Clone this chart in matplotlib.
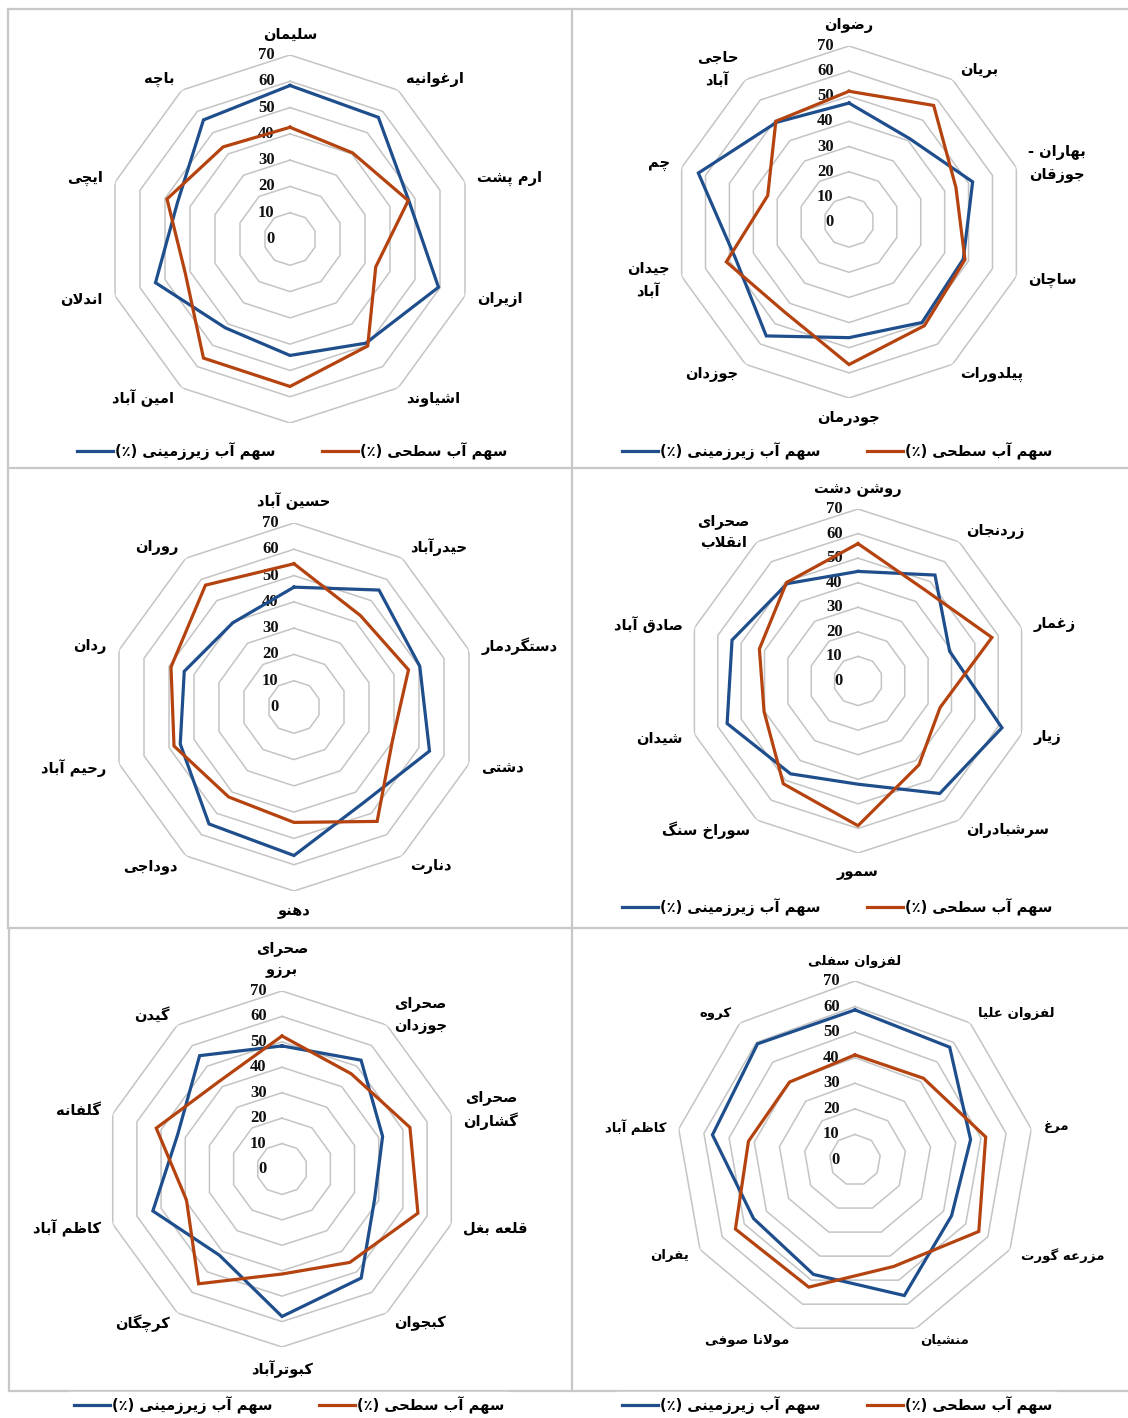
import matplotlib
matplotlib.use("Agg")
import matplotlib.pyplot as plt
import numpy as np
from matplotlib.lines import Line2D

W, H, DPI = 1128, 1418, 100

BLUE = "#1f4e8c"
RED = "#b5430f"
GRID = "#c4c4c4"
FRAME = "#c8c8c8"

TICKS = [0, 10, 20, 30, 40, 50, 60, 70]
GROUND_LABEL = "سهم آب زیرزمینی"
SURFACE_LABEL = "سهم آب سطحی"

# --- panel data (clockwise from top) ---
p1_names = ["سلیمان", "ارغوانیه", "ارم پشت", "ازیران", "اشیاوند", "",
            "امین آباد", "اندلان", "ایچی", "باچه"]
p1_ground = [58.4, 57.2, 47.5, 59.4, 49.0, 44.3, 41.8, 53.8, 45.0, 56.0]
p1_surface = [42.5, 40.5, 47.3, 34.3, 50.3, 56.1, 56.0, 41.9, 49.2, 43.3]

p2_names = ["رضوان", "بریان", "بهاران -\nجوزقان", "ساچان", "پیلدورات", "جودرمان",
            "جوزدان", "جیدان\nآباد", "چم", "حاجی\nآباد"]
p2_ground = [47.3, 41.0, 51.7, 47.8, 49.4, 46.0, 56.0, 47.4, 63.0, 49.0]
p2_surface = [52.0, 57.3, 44.7, 48.5, 51.0, 56.7, 44.0, 51.3, 34.0, 49.5]

p3_names = ["حسین آباد", "حیدرآباد", "دستگردمار", "دشتی", "دنارت", "دهنو",
            "دوداجی", "رحیم آباد", "ردان", "روران"]
p3_ground = [45.6, 55.0, 50.3, 54.2, 45.0, 56.5, 55.0, 45.5, 43.9, 39.6]
p3_surface = [54.5, 43.0, 45.8, 39.5, 53.8, 43.9, 42.3, 48.0, 49.2, 57.3]

p4_names = ["روشن دشت", "زردنجان", "زغمار", "زیار", "سرشبادران", "سمور",
            "سوراخ سنگ", "شیدان", "صادق آباد", "صحرای\nانقلاب"]
p4_ground = [44.6, 53.3, 39.2, 61.6, 56.6, 42.0, 46.7, 56.0, 53.9, 49.0]
p4_surface = [55.9, 46.0, 57.3, 35.1, 42.2, 58.9, 51.7, 40.2, 42.2, 49.5]

p5_names = ["صحرای\nبرزو", "صحرای\nجوزدان", "صحرای\nگشاران", "قلعه بغل", "کبجوان",
            "کبوترآباد", "کرچگان", "کاظم آباد", "گلفانه", "گیدن"]
p5_ground = [48.4, 52.9, 41.6, 38.3, 53.0, 58.0, 41.9, 53.4, 43.2, 55.1]
p5_surface = [52.3, 46.3, 52.9, 56.2, 45.4, 41.3, 55.8, 39.5, 52.0, 42.4]

p6_names = ["لفزوان سفلی", "لفزوان علیا", "مرغ", "مزرعه گورت", "منشیان",
            "مولانا صوفی", "یفران", "کاظم آباد", "کروه"]
p6_ground = [58.7, 57.6, 45.9, 43.6, 56.4, 47.6, 45.8, 56.6, 59.3]
p6_surface = [41.1, 41.7, 51.9, 55.9, 44.3, 52.9, 54.0, 42.3, 39.8]

# --- minimal Persian shaping (matplotlib has no complex text layout) ---
_DUAL = {
    "ب": "\uFE8F\uFE90\uFE91\uFE92", "پ": "\uFB56\uFB57\uFB58\uFB59",
    "ت": "\uFE95\uFE96\uFE97\uFE98", "ث": "\uFE99\uFE9A\uFE9B\uFE9C",
    "ج": "\uFE9D\uFE9E\uFE9F\uFEA0", "چ": "\uFB7A\uFB7B\uFB7C\uFB7D",
    "ح": "\uFEA1\uFEA2\uFEA3\uFEA4", "خ": "\uFEA5\uFEA6\uFEA7\uFEA8",
    "س": "\uFEB1\uFEB2\uFEB3\uFEB4", "ش": "\uFEB5\uFEB6\uFEB7\uFEB8",
    "ص": "\uFEB9\uFEBA\uFEBB\uFEBC", "ض": "\uFEBD\uFEBE\uFEBF\uFEC0",
    "ط": "\uFEC1\uFEC2\uFEC3\uFEC4", "ظ": "\uFEC5\uFEC6\uFEC7\uFEC8",
    "ع": "\uFEC9\uFECA\uFECB\uFECC", "غ": "\uFECD\uFECE\uFECF\uFED0",
    "ف": "\uFED1\uFED2\uFED3\uFED4", "ق": "\uFED5\uFED6\uFED7\uFED8",
    "ک": "\uFB8E\uFB8F\uFB90\uFB91", "گ": "\uFB92\uFB93\uFB94\uFB95",
    "ل": "\uFEDD\uFEDE\uFEDF\uFEE0", "م": "\uFEE1\uFEE2\uFEE3\uFEE4",
    "ن": "\uFEE5\uFEE6\uFEE7\uFEE8", "ه": "\uFEE9\uFEEA\uFEEB\uFEEC",
    "ی": "\uFBFC\uFBFD\uFBFE\uFBFF",
}
_RIGHT = {
    "ا": "\uFE8D\uFE8E", "آ": "\uFE81\uFE82", "د": "\uFEA9\uFEAA",
    "ذ": "\uFEAB\uFEAC", "ر": "\uFEAD\uFEAE", "ز": "\uFEAF\uFEB0",
    "ژ": "\uFB8A\uFB8B", "و": "\uFEED\uFEEE",
}


def fa(text):
    """Shape Persian text into presentation forms, in visual (LTR) order."""
    lines = []
    for line in text.split("\n"):
        out, i, n = [], 0, len(line)
        while i < n:
            c = line[i]
            join_prev = i > 0 and line[i - 1] in _DUAL
            if c == "ل" and i + 1 < n and line[i + 1] in ("ا", "آ"):
                lig = "\uFEFB\uFEFC" if line[i + 1] == "ا" else "\uFEF5\uFEF6"
                out.append(lig[1] if join_prev else lig[0])
                i += 2
                continue
            nxt = line[i + 1] if i + 1 < n else ""
            if c in _DUAL:
                join_next = nxt in _DUAL or nxt in _RIGHT
                idx = (3 if join_next else 1) if join_prev else (2 if join_next else 0)
                out.append(_DUAL[c][idx])
            elif c in _RIGHT:
                out.append(_RIGHT[c][1 if join_prev else 0])
            else:
                out.append(c)
            i += 1
        lines.append("".join(reversed(out)))
    return "\n".join(lines)


LABEL_FONT = "DejaVu Sans"
TICK_FONT = "Liberation Serif"


def px_rect(cx, cy, r):
    return [(cx - r) / W, 1 - (cy + r) / H, 2 * r / W, 2 * r / H]


def draw_radar(fig, cx, cy, r, names, ground, surface, label_size=10.5,
               legend_y=None, legend_x=None, legend_box=False):
    ax = fig.add_axes(px_rect(cx, cy, r), projection="polar")
    ax.set_theta_zero_location("N")
    ax.set_theta_direction(-1)
    ax.set_ylim(0, TICKS[-1])
    ax.set_axis_off()

    n = len(names)
    theta = np.linspace(0, 2 * np.pi, n, endpoint=False)
    closed = np.append(theta, theta[0])

    for t in TICKS[1:]:
        ax.plot(closed, [t] * (n + 1), color=GRID, lw=1.1, zorder=1)
    for t in TICKS:
        ax.annotate(str(t), xy=(0, t), xytext=(-11, 0), textcoords="offset points",
                    ha="right", va="center", fontsize=12, fontweight="bold",
                    family=TICK_FONT, color="#111111", zorder=3)

    g = np.append(ground, ground[0])
    s = np.append(surface, surface[0])
    lg, = ax.plot(closed, g, color=BLUE, lw=2.3, zorder=4, solid_joinstyle="miter")
    ls, = ax.plot(closed, s, color=RED, lw=2.3, zorder=5, solid_joinstyle="miter")

    for th, name in zip(theta, names):
        if not name:
            continue
        sx, cy_ = np.sin(th), np.cos(th)
        if abs(sx) < 0.1:
            ha = "center"
            va = "bottom" if cy_ > 0 else "top"
        else:
            ha = "left" if sx > 0 else "right"
            va = "center"
        ax.text(th, 75, fa(name), ha=ha, va=va, multialignment="center",
                fontsize=label_size, fontweight="bold", family=LABEL_FONT,
                linespacing=1.55, clip_on=False)

    if legend_y is not None:
        leg = ax.legend([lg, ls],
                        ["(٪) " + fa(GROUND_LABEL), "(٪) " + fa(SURFACE_LABEL)],
                        loc="center", bbox_to_anchor=(legend_x / W, 1 - legend_y / H),
                        bbox_transform=fig.transFigure, ncol=2, frameon=legend_box,
                        handlelength=2.5, handletextpad=0.1, columnspacing=3.2,
                        borderpad=0.3, fancybox=False,
                        prop={"family": LABEL_FONT, "weight": "bold", "size": 10.5})
        if legend_box:
            leg.get_frame().set_facecolor("white")
            leg.get_frame().set_edgecolor("white")
            leg.get_frame().set_alpha(1)
    return ax


def frame_line(fig, xs, ys):
    fig.add_artist(Line2D([x / W for x in xs], [1 - y / H for y in ys],
                          transform=fig.transFigure, color=FRAME, lw=1.6, zorder=-1))


fig = plt.figure(figsize=(W / DPI, H / DPI), dpi=DPI, facecolor="white")

# panel frames
frame_line(fig, [8, W], [9, 9])
frame_line(fig, [8, W], [468, 468])
frame_line(fig, [8, W], [928, 928])
frame_line(fig, [9, W], [1391, 1391])
frame_line(fig, [8, 8], [9, 928])
frame_line(fig, [9, 9], [928, 1391])
frame_line(fig, [572, 572], [9, 1391])

draw_radar(fig, 290, 239, 184, p1_names, p1_ground, p1_surface,
           legend_y=451, legend_x=292)
draw_radar(fig, 849, 222, 176, p2_names, p2_ground, p2_surface,
           legend_y=451, legend_x=837)
draw_radar(fig, 294, 707, 184, p3_names, p3_ground, p3_surface)
draw_radar(fig, 858, 681, 172, p4_names, p4_ground, p4_surface,
           legend_y=907, legend_x=837)
draw_radar(fig, 282, 1169, 178, p5_names, p5_ground, p5_surface,
           legend_y=1405, legend_x=289, legend_box=True)
draw_radar(fig, 855, 1160, 179, p6_names, p6_ground, p6_surface, label_size=9.5,
           legend_y=1405, legend_x=837, legend_box=True)

fig.savefig("out.png", dpi=DPI, facecolor="white")
